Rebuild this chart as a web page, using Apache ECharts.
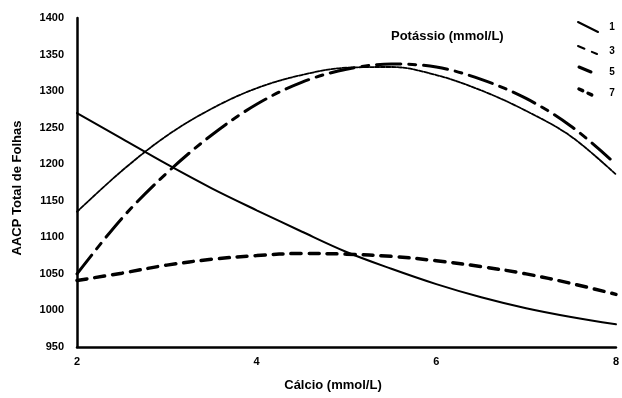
<!DOCTYPE html>
<html>
<head>
<meta charset="utf-8">
<script src="https://cdn.jsdelivr.net/npm/echarts@6/dist/echarts.min.js"></script>
<style>
  html, body { margin: 0; padding: 0; background: #fff; }
  #chart { width: 622px; height: 398px; }
</style>
</head>
<body>
<div id="chart"></div>
<script>
// Cálcio levels (mmol/L) on the horizontal axis
const calcio = [2, 2.5, 3, 3.5, 4, 4.5, 5, 5.5, 6, 6.5, 7, 7.5, 8];

// AACP total de folhas for each potássio level (mmol/L)
const k1 = [1270, 1235, 1200, 1167, 1137, 1108, 1080, 1057, 1036, 1018, 1003, 991, 981];
const k3 = [1135, 1191, 1239, 1276, 1304, 1322, 1332, 1333, 1322, 1301, 1273, 1238, 1186];
const k5 = [1050, 1126, 1188, 1240, 1282, 1312, 1330, 1337, 1333, 1316, 1290, 1252, 1200];
const k7 = [1041, 1051, 1062, 1070, 1075, 1078, 1077, 1074, 1068, 1060, 1050, 1037, 1022];

const potassioLevels = ['1', '3', '5', '7'];
const xTicks = [2, 8, 2];          // min, max, interval
const yTicks = [950, 1400, 50];    // min, max, interval

const FONT = '"Liberation Sans", Arial, sans-serif';

function pairs(ys) { return calcio.map((x, i) => [x, ys[i]]); }

const styles = [
  { width: 2,   type: 'solid' },
  { width: 1.8, type: [4, 1.5] },
  { width: 3,   type: [24, 8, 7, 8] },
  { width: 3.5, type: [10, 8] }
];
const values = [k1, k3, k5, k7];

const series = potassioLevels.map((name, i) => ({
  name: name,
  type: 'line',
  data: pairs(values[i]),
  smooth: 0.35,
  showSymbol: false,
  silent: true,
  lineStyle: { color: '#000', width: styles[i].width, type: styles[i].type, cap: 'round' }
}));

// legend key: slanted stroke samples with level numbers
const keyRows = [
  { y: 27, dash: null,    w: 2,   seg: [578, 22, 598, 32] },
  { y: 51, dash: [7, 8],  w: 2,   seg: [578, 46, 597, 54] },
  { y: 72, dash: null,    w: 3,   seg: [579, 67, 591, 72] },
  { y: 93, dash: [4, 6],  w: 3.5, seg: [579, 89, 594, 96] }
];
const keyGraphics = [];
keyRows.forEach((r, i) => {
  keyGraphics.push({
    type: 'line',
    shape: { x1: r.seg[0], y1: r.seg[1], x2: r.seg[2], y2: r.seg[3] },
    style: { stroke: '#000', lineWidth: r.w, lineDash: r.dash, lineCap: 'round' }
  });
  keyGraphics.push({
    type: 'text', x: 612, y: r.y,
    style: { text: potassioLevels[i], font: 'bold 10px ' + FONT, fill: '#000',
             textAlign: 'center', textVerticalAlign: 'middle' }
  });
});

const chart = echarts.init(document.getElementById('chart'), null, { renderer: 'canvas' });
chart.setOption({
  animation: false,
  backgroundColor: '#fff',
  grid: { left: 77, right: 3, top: 18, bottom: 51, containLabel: false },
  xAxis: {
    type: 'value', min: xTicks[0], max: xTicks[1], interval: xTicks[2],
    axisLine: { show: true, lineStyle: { color: '#000', width: 2.5 } },
    axisTick: { show: false },
    splitLine: { show: false },
    axisLabel: { color: '#000', fontFamily: FONT, fontWeight: 'bold', fontSize: 11, margin: 9,
                 formatter: v => String(v) }
  },
  yAxis: {
    type: 'value', min: yTicks[0], max: yTicks[1], interval: yTicks[2],
    axisLine: { show: true, lineStyle: { color: '#000', width: 2.5 } },
    axisTick: { show: false },
    splitLine: { show: false },
    axisLabel: { color: '#000', fontFamily: FONT, fontWeight: 'bold', fontSize: 11, margin: 13,
                 formatter: v => String(v) }
  },
  series: series,
  graphic: [
    { type: 'text', x: 391, y: 36,
      style: { text: 'Potássio (mmol/L)', font: 'bold 13px ' + FONT, fill: '#000',
               textAlign: 'left', textVerticalAlign: 'middle' } },
    { type: 'text', x: 333, y: 385,
      style: { text: 'Cálcio (mmol/L)', font: 'bold 13px ' + FONT, fill: '#000',
               textAlign: 'center', textVerticalAlign: 'middle' } },
    { type: 'text', x: 17, y: 188, rotation: Math.PI / 2,
      style: { text: 'AACP Total de Folhas', font: 'bold 13px ' + FONT, fill: '#000',
               textAlign: 'center', textVerticalAlign: 'middle' } }
  ].concat(keyGraphics)
});
</script>
</body>
</html>
